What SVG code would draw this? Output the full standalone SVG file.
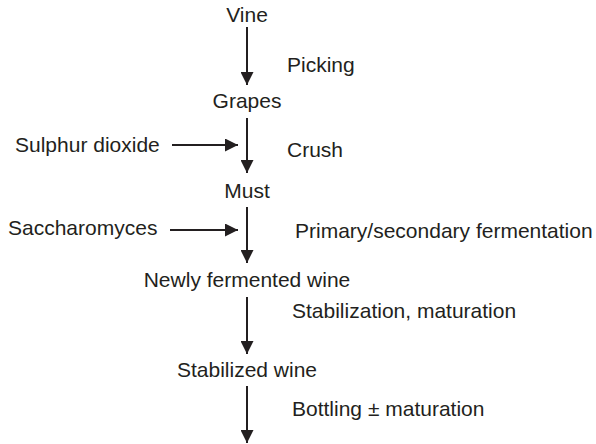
<svg xmlns="http://www.w3.org/2000/svg" width="596" height="444" viewBox="0 0 596 444">
  <style>
    text { font-family: "Liberation Sans", Arial, sans-serif; font-size: 21px; fill: #231f20; }
    .node { text-anchor: middle; }
    .edge { stroke: #231f20; stroke-width: 2; fill: none; marker-end: url(#head); }
  </style>
  <defs>
    <marker id="head" markerUnits="userSpaceOnUse" markerWidth="14" markerHeight="13" refX="13" refY="6.5" orient="auto">
      <path d="M0,0 L13,6.5 L0,13 Z" fill="#231f20"/>
    </marker>
  </defs>

  <!-- process flow, top to bottom -->
  <g id="vine"><text class="node" x="247" y="22">Vine</text></g>
  <g id="grapes"><text class="node" x="247" y="108">Grapes</text></g>
  <g id="must"><text class="node" x="247" y="198">Must</text></g>
  <g id="newly-fermented-wine"><text class="node" x="247" y="287">Newly fermented wine</text></g>
  <g id="stabilized-wine"><text class="node" x="247" y="377">Stabilized wine</text></g>

  <!-- inputs -->
  <g id="sulphur-dioxide"><text x="15" y="152">Sulphur dioxide</text></g>
  <g id="saccharomyces"><text x="8" y="235">Saccharomyces</text></g>

  <!-- step labels -->
  <g id="labels">
    <text x="287" y="72">Picking</text>
    <text x="287" y="157">Crush</text>
    <text x="295" y="238">Primary/secondary fermentation</text>
    <text x="292" y="318">Stabilization, maturation</text>
    <text x="292" y="416">Bottling ± maturation</text>
  </g>

  <g id="connectors">
    <line class="edge" x1="247" y1="27" x2="247" y2="85"/>
    <line class="edge" x1="247" y1="118" x2="247" y2="173"/>
    <line class="edge" x1="247" y1="207" x2="247" y2="263"/>
    <line class="edge" x1="247" y1="297" x2="247" y2="354"/>
    <line class="edge" x1="247" y1="386" x2="247" y2="443"/>
    <line class="edge" x1="172" y1="145" x2="238" y2="145"/>
    <line class="edge" x1="170" y1="230" x2="238" y2="230"/>
  </g>
</svg>
